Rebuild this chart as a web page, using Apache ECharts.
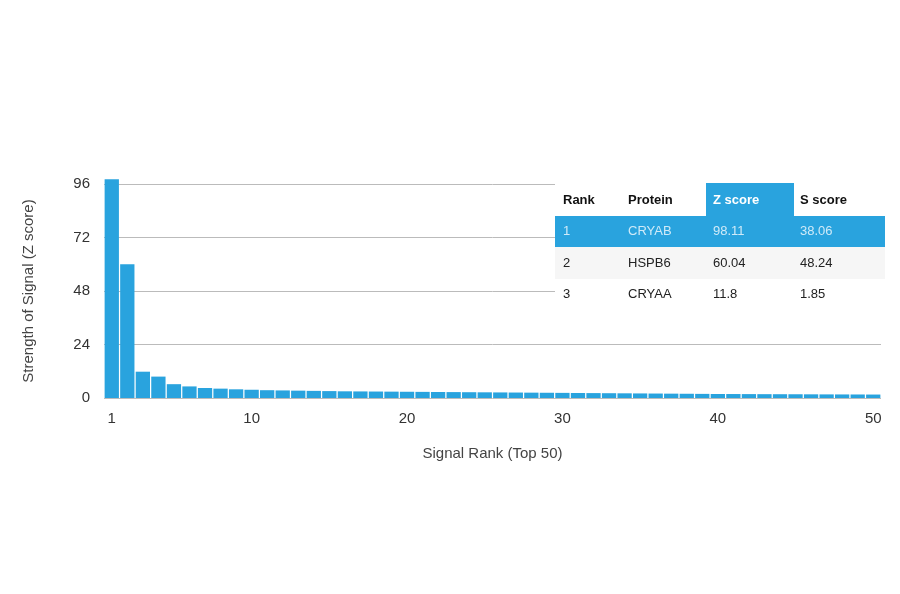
<!DOCTYPE html>
<html>
<head>
<meta charset="utf-8">
<script src="https://cdn.jsdelivr.net/npm/echarts@6/dist/echarts.min.js"></script>
<style>html,body{margin:0;padding:0;background:#fff}#chart{width:900px;height:594px}</style>
</head>
<body>
<div id="chart"></div>
<script>
var ranks = [];
for (var i = 1; i <= 50; i++) ranks.push(String(i));
var zScores = [98.11, 60.04, 11.8, 9.6, 6.2, 5.2, 4.5, 4.2, 3.9, 3.7,
  3.5, 3.4, 3.3, 3.2, 3.1, 3.0, 2.95, 2.9, 2.85, 2.8,
  2.75, 2.7, 2.65, 2.6, 2.55, 2.5, 2.45, 2.4, 2.35, 2.3,
  2.25, 2.2, 2.15, 2.1, 2.05, 2.0, 1.95, 1.9, 1.85, 1.8,
  1.78, 1.75, 1.72, 1.7, 1.68, 1.65, 1.62, 1.6, 1.58, 1.55];
var tableHead = ['Rank', 'Protein', 'Z score', 'S score'];
var tableRows = [
  ['1', 'CRYAB', '98.11', '38.06'],
  ['2', 'HSPB6', '60.04', '48.24'],
  ['3', 'CRYAA', '11.8', '1.85']
];

var font = 'Helvetica, Arial, "Liberation Sans", sans-serif';
var colX = [563, 628, 713, 800];
var rowY = [184, 216, 247, 279];
var rowH = [32, 31, 32, 31];

var graphics = [{ type: 'rect', shape: { x: 555, y: 180, width: 330, height: 132 }, style: { fill: '#fff' } },
  { type: 'rect', shape: { x: 706, y: 183, width: 88, height: 33 }, style: { fill: '#29a3de' } },
  { type: 'rect', shape: { x: 555, y: 216, width: 330, height: 31 }, style: { fill: '#29a3de' } },
  { type: 'rect', shape: { x: 555, y: 247, width: 330, height: 32 }, style: { fill: '#f6f6f6' } }];
tableHead.forEach(function (t, c) {
  graphics.push({ type: 'text', x: colX[c], y: rowY[0] + rowH[0] / 2,
    style: { text: t, fill: c === 2 ? '#fff' : '#111', font: 'bold 13px ' + font, textVerticalAlign: 'middle' } });
});
tableRows.forEach(function (row, r) {
  row.forEach(function (t, c) {
    graphics.push({ type: 'text', x: colX[c], y: rowY[r + 1] + rowH[r + 1] / 2,
      style: { text: t, fill: r === 0 ? '#cfeaf8' : '#222', font: '13px ' + font, textVerticalAlign: 'middle' } });
  });
});
graphics.forEach(function (g) { g.z = 100; });

var chart = echarts.init(document.getElementById('chart'));
chart.setOption({
  animation: false,
  grid: { left: 104, right: 19, top: 184, bottom: 196 },
  xAxis: {
    type: 'category', data: ranks,
    name: 'Signal Rank (Top 50)', nameLocation: 'middle', nameGap: 48,
    nameTextStyle: { fontSize: 15, color: '#444', fontFamily: font },
    axisLine: { show: false }, axisTick: { show: false },
    axisLabel: { fontSize: 15, color: '#333', fontFamily: font, margin: 13,
      interval: 0, formatter: function (v) { return (v === '1' || +v % 10 === 0) ? v : ''; } }
  },
  yAxis: {
    type: 'value', min: 0, max: 96, interval: 24,
    name: 'Strength of Signal (Z score)', nameLocation: 'middle', nameGap: 68,
    nameTextStyle: { fontSize: 15, color: '#444', fontFamily: font },
    axisLabel: { fontSize: 15, color: '#333', fontFamily: font, margin: 14 },
    splitLine: { lineStyle: { color: '#bbb' } }
  },
  series: [{
    type: 'bar', data: zScores, barCategoryGap: '8%', clip: false,
    itemStyle: { color: '#29a3de' }
  }],
  graphic: graphics
});
</script>
</body>
</html>
